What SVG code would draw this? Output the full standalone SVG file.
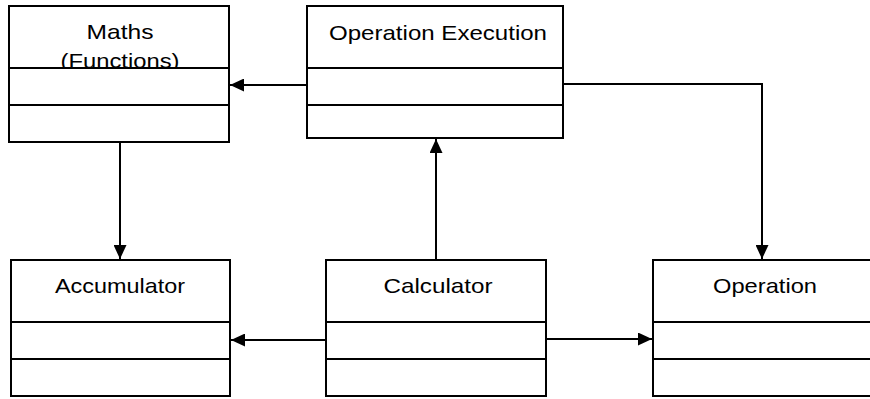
<svg xmlns="http://www.w3.org/2000/svg" width="870" height="399" viewBox="0 0 870 399">
  <style>
    .box { fill: #fff; stroke: #000; stroke-width: 2; }
    .label { font-family: "Liberation Sans", Arial, sans-serif; font-size: 21px; fill: #000; text-anchor: middle; }
    .conn { fill: none; stroke: #000; stroke-width: 2; marker-end: url(#arrow); }
  </style>
  <defs>
    <marker id="arrow" markerUnits="userSpaceOnUse" markerWidth="15" markerHeight="13" refX="14" refY="6.5" orient="auto">
      <path d="M0,0 L14,6.5 L0,13 z" fill="#000"/>
    </marker>
  </defs>
  <rect width="870" height="399" fill="#fff"/>

  <!-- class boxes: name compartment, attributes, operations -->
  <g id="maths">
    <rect class="box" x="9" y="6" width="220" height="62"/>
    <text class="label" x="120" y="39" textLength="67" lengthAdjust="spacingAndGlyphs">Maths</text>
    <text class="label" x="120" y="68" textLength="119" lengthAdjust="spacingAndGlyphs">(Functions)</text>
    <rect class="box" x="9" y="68" width="220" height="37"/>
    <rect class="box" x="9" y="105" width="220" height="37"/>
  </g>

  <g id="operation-execution">
    <rect class="box" x="307" y="6" width="256" height="62"/>
    <text class="label" x="438" y="40" textLength="218" lengthAdjust="spacingAndGlyphs">Operation Execution</text>
    <rect class="box" x="307" y="68" width="256" height="37"/>
    <rect class="box" x="307" y="105" width="256" height="33"/>
  </g>

  <g id="accumulator">
    <rect class="box" x="11" y="260" width="219" height="62"/>
    <text class="label" x="120" y="293" textLength="130" lengthAdjust="spacingAndGlyphs">Accumulator</text>
    <rect class="box" x="11" y="322" width="219" height="37"/>
    <rect class="box" x="11" y="359" width="219" height="37"/>
  </g>

  <g id="calculator">
    <rect class="box" x="326" y="260" width="220" height="62"/>
    <text class="label" x="438" y="293" textLength="109" lengthAdjust="spacingAndGlyphs">Calculator</text>
    <rect class="box" x="326" y="322" width="220" height="37"/>
    <rect class="box" x="326" y="359" width="220" height="37"/>
  </g>

  <g id="operation">
    <rect class="box" x="653" y="260" width="230" height="62"/>
    <text class="label" x="765" y="293" textLength="104" lengthAdjust="spacingAndGlyphs">Operation</text>
    <rect class="box" x="653" y="322" width="230" height="37"/>
    <rect class="box" x="653" y="359" width="230" height="37"/>
  </g>

  <!-- associations -->
  <g id="connectors">
    <path class="conn" d="M307,85 H230"/>
    <path class="conn" d="M120,142 V259"/>
    <path class="conn" d="M436,260 V139"/>
    <path class="conn" d="M563,84 H762 V259"/>
    <path class="conn" d="M326,340 H231"/>
    <path class="conn" d="M546,339 H652"/>
  </g>
</svg>
